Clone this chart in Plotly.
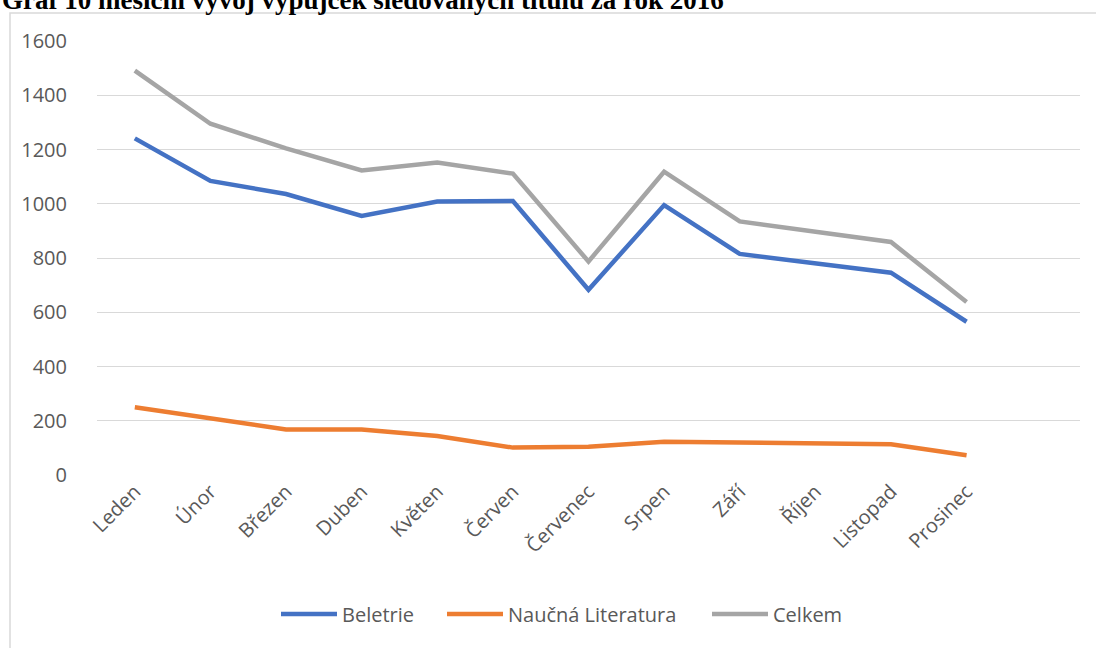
import plotly.graph_objects as go

months = ["Leden", "Únor", "Březen", "Duben", "Květen", "Červen", "Červenec",
          "Srpen", "Září", "Říjen", "Listopad", "Prosinec"]
beletrie = [1241, 1084, 1036, 955, 1008, 1010, 683, 995, 815, 780, 746, 565]
naucna = [250, 211, 168, 168, 144, 101, 104, 123, 120, 116, 113, 73]
celkem = [1491, 1295, 1204, 1123, 1152, 1111, 787, 1118, 935, 896, 859, 638]
y_ticks = [0, 200, 400, 600, 800, 1000, 1200, 1400, 1600]

title_text = "Graf 10 měsíční vývoj výpůjček sledovaných titulů za rok 2016"

FONT = "Open Sans"
TXT = "#595959"
FS = 20

W, H = 1096, 648
L, R, T, B = 97, 16, 41, 173
pw, ph = W - L - R, H - T - B


def px(xp):
    return (xp - L) / pw


def py(yp):
    return (H - B - yp) / ph


series = [("Beletrie", beletrie, "#4472C4", "legend", 282),
          ("Naučná Literatura", naucna, "#ED7D31", "legend2", 448),
          ("Celkem", celkem, "#A5A5A5", "legend3", 713)]

fig = go.Figure()
legends = {}
for name, vals, col, lg, lx in series:
    fig.add_trace(go.Scatter(x=months, y=vals, name=name, mode="lines",
                             line=dict(color=col, width=4.5), legend=lg))
    legends[lg] = dict(orientation="h", x=px(lx - 6), xanchor="left",
                       y=py(614), yanchor="middle",
                       font=dict(family=FONT, size=FS, color=TXT), itemwidth=56,
                       bgcolor="rgba(0,0,0,0)", borderwidth=0)

fig.update_layout(
    width=W, height=H,
    margin=dict(l=L, r=R, t=T, b=B, pad=0),
    paper_bgcolor="white", plot_bgcolor="white",
    font=dict(family=FONT, size=FS, color=TXT),
    showlegend=True,
    xaxis=dict(type="category", categoryorder="array", categoryarray=months,
               range=[-0.5, 12.5], tickangle=-45, showgrid=False, showline=False,
               zeroline=False, ticks="", tickfont=dict(family=FONT, size=FS, color=TXT)),
    yaxis=dict(range=[0, 1600], tickvals=y_ticks, showgrid=True, gridcolor="#D9D9D9",
               gridwidth=1, zeroline=False, showline=False, ticks="outside", ticklen=25,
               tickcolor="rgba(0,0,0,0)", tickfont=dict(family=FONT, size=FS, color=TXT)),
    shapes=[dict(type="rect", xref="paper", yref="paper",
                 x0=px(10), y0=py(13), x1=px(1200), y1=py(800),
                 line=dict(color="#D9D9D9", width=1.5), fillcolor="rgba(0,0,0,0)",
                 layer="below")],
    annotations=[dict(text="<b>" + title_text + "</b>", xref="paper", yref="paper",
                      x=px(0), xanchor="left", y=py(17), yanchor="bottom",
                      showarrow=False,
                      font=dict(family="Liberation Serif", size=27, color="black"))],
)
fig.update_layout(**legends)

fig.write_html("out.html", config={"displayModeBar": False},
               post_script="document.body.style.margin='0';document.body.style.overflow='hidden';")
